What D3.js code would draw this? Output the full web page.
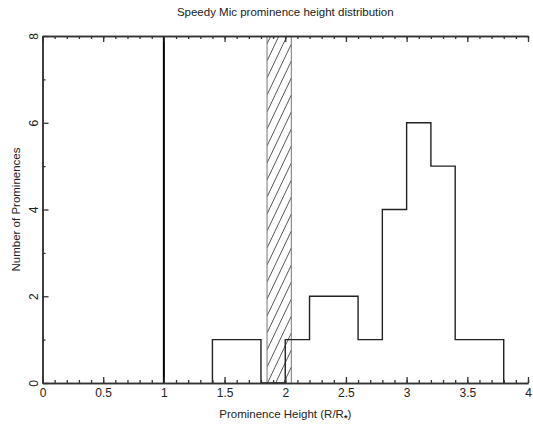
<!DOCTYPE html>
<html>
<head>
<meta charset="utf-8">
<script src="https://cdn.jsdelivr.net/npm/d3@7"></script>
<style>
  body { margin: 0; background: #fff; }
  svg { display: block; }
  text { font-family: "Liberation Sans", Arial, sans-serif; fill: #222; }
</style>
</head>
<body>
<div id="chart"></div>
<script>
// histogram bins (start, end) and counts
var binStart = [1.4, 1.6, 1.8, 2.0, 2.2, 2.4, 2.6, 2.8, 3.0, 3.2, 3.4, 3.6];
var binEnd   = [1.6, 1.8, 2.0, 2.2, 2.4, 2.6, 2.8, 3.0, 3.2, 3.4, 3.6, 3.8];
var counts   = [1, 1, 0, 1, 2, 2, 1, 4, 6, 5, 1, 1];

var starLine = [1];            // stellar surface R/R* = 1
var band = [1.85, 2.05];       // hatched region

var xMajor = [0, 0.5, 1, 1.5, 2, 2.5, 3, 3.5, 4];
var xLabels = ["0", "0.5", "1", "1.5", "2", "2.5", "3", "3.5", "4"];
var yMajor = [0, 2, 4, 6, 8];
var yLabels = ["0", "2", "4", "6", "8"];

var width = 533, height = 424;
var margin = {left: 42.5, right: 5, top: 36, bottom: 41};

var svg = d3.select("#chart").append("svg")
  .attr("width", width).attr("height", height);

var x = d3.scaleLinear().domain([0, 4]).range([margin.left, width - margin.right]);
var y = d3.scaleLinear().domain([0, 8]).range([height - margin.bottom, margin.top]);

var axisCol = "#333";

// hatched band
var bx0 = x(band[0]), bx1 = x(band[1]);
svg.append("clipPath").attr("id", "bandclip")
  .append("rect")
  .attr("x", bx0).attr("y", y(8))
  .attr("width", bx1 - bx0).attr("height", y(0) - y(8));

var hatch = svg.append("g").attr("clip-path", "url(#bandclip)");
var slope = 2.1, step = 17;
for (var yy = y(8) - 60; yy < y(0) + 60; yy += step) {
  hatch.append("line")
    .attr("x1", bx0).attr("y1", yy + (bx1 - bx0) * slope)
    .attr("x2", bx1).attr("y2", yy)
    .attr("stroke", "#444").attr("stroke-width", 0.9);
}
svg.selectAll(".bandedge").data(band).enter().append("line")
  .attr("x1", function(d) { return x(d); }).attr("x2", function(d) { return x(d); })
  .attr("y1", y(0)).attr("y2", y(8))
  .attr("stroke", "#777").attr("stroke-width", 1);

// histogram step outline
var pts = [[binStart[0], 0]];
for (var i = 0; i < counts.length; i++) {
  pts.push([binStart[i], counts[i]]);
  pts.push([binEnd[i], counts[i]]);
}
pts.push([binEnd[binEnd.length - 1], 0]);
svg.append("path")
  .attr("d", d3.line().x(function(d) { return x(d[0]); }).y(function(d) { return y(d[1]); })(pts))
  .attr("fill", "none").attr("stroke", "#222").attr("stroke-width", 1.4);

// R = 1 line
svg.selectAll(".star").data(starLine).enter().append("line")
  .attr("x1", function(d) { return x(d); }).attr("x2", function(d) { return x(d); })
  .attr("y1", y(0)).attr("y2", y(8))
  .attr("stroke", "#000").attr("stroke-width", 2);

// axes (ticks inward)
var xMinor = d3.range(0, 41).map(function(d) { return d / 10; });
var yMinor = [1, 3, 5, 7];

function styleAxis(g) {
  g.select(".domain").attr("stroke", axisCol).attr("stroke-width", 1.5);
  g.selectAll(".tick line").attr("stroke", axisCol).attr("stroke-width", 1.3);
}

svg.append("g").attr("transform", "translate(0," + y(0) + ")")
  .call(d3.axisBottom(x).tickValues(xMinor).tickSize(-3).tickFormat("").tickSizeOuter(0))
  .call(styleAxis);
svg.append("g").attr("transform", "translate(0," + y(0) + ")")
  .call(d3.axisBottom(x).tickValues(xMajor).tickSize(-6).tickSizeOuter(0)
    .tickFormat(function(d, i) { return xLabels[i]; }))
  .call(styleAxis)
  .call(function(g) {
    g.selectAll(".tick text").attr("y", 5).attr("dy", "0.71em")
      .style("font-size", "12px").attr("fill", "#222");
  });

svg.append("g").attr("transform", "translate(0," + y(8) + ")")
  .call(d3.axisTop(x).tickValues(xMinor).tickSize(-3).tickFormat("").tickSizeOuter(0))
  .call(styleAxis);
svg.append("g").attr("transform", "translate(0," + y(8) + ")")
  .call(d3.axisTop(x).tickValues(xMajor).tickSize(-6).tickFormat("").tickSizeOuter(0))
  .call(styleAxis);

svg.append("g").attr("transform", "translate(" + x(0) + ",0)")
  .call(d3.axisLeft(y).tickValues(yMinor).tickSize(-3).tickFormat("").tickSizeOuter(0))
  .call(styleAxis);
var yAx = svg.append("g").attr("transform", "translate(" + x(0) + ",0)")
  .call(d3.axisLeft(y).tickValues(yMajor).tickSize(-6).tickSizeOuter(0)
    .tickFormat(function(d, i) { return yLabels[i]; }))
  .call(styleAxis);
yAx.selectAll(".tick text")
  .attr("x", null).attr("dy", null)
  .attr("transform", "translate(-5,0) rotate(-90)")
  .attr("text-anchor", "middle")
  .attr("y", 0)
  .style("font-size", "12px").attr("fill", "#222");

// titles
svg.append("text")
  .attr("x", (x(0) + x(4)) / 2).attr("y", 16)
  .attr("text-anchor", "middle").style("font-size", "11.5px")
  .text("Speedy Mic prominence height distribution");

var xt = svg.append("text")
  .attr("x", (x(0) + x(4)) / 2).attr("y", 418)
  .attr("text-anchor", "middle").style("font-size", "11.5px");
xt.append("tspan").text("Prominence Height (R/R");
xt.append("tspan").attr("dy", 3).style("font-size", "9px").style("font-weight", "bold").text("*");
xt.append("tspan").attr("dy", -3).text(")");

svg.append("text")
  .attr("transform", "translate(20," + (y(0) + y(8)) / 2 + ") rotate(-90)")
  .attr("text-anchor", "middle").style("font-size", "11.5px")
  .text("Number of Prominences");
</script>
</body>
</html>
